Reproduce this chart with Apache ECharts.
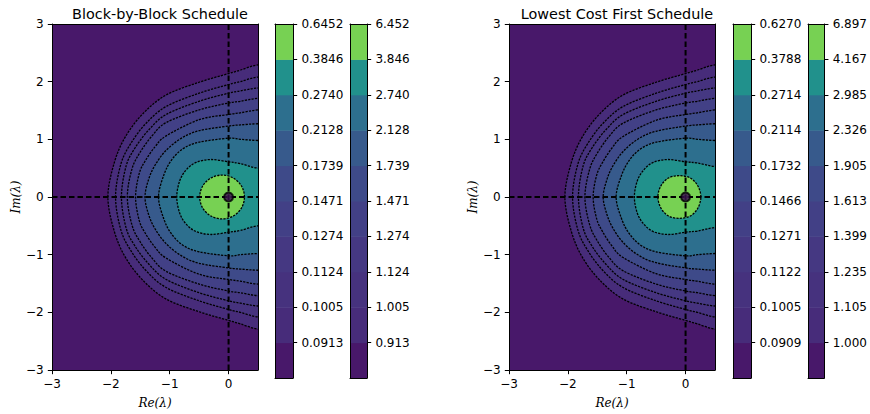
<!DOCTYPE html>
<html>
<head>
<meta charset="utf-8">
<script src="https://cdn.jsdelivr.net/npm/echarts@6/dist/echarts.min.js"></script>
<style>
  html, body { margin: 0; background: #fff; }
  #chart { width: 870px; height: 414px; }
</style>
</head>
<body>
<div id="chart"></div>
<script>
// colorbar tick labels, bottom boundary to top
var blockLevels = ['0.0913', '0.1005', '0.1124', '0.1274', '0.1471', '0.1739', '0.2128', '0.2740', '0.3846', '0.6452'];
var blockLevelsInv = ['0.913', '1.005', '1.124', '1.274', '1.471', '1.739', '2.128', '2.740', '3.846', '6.452'];
var lowestLevels = ['0.0909', '0.1005', '0.1122', '0.1271', '0.1466', '0.1732', '0.2114', '0.2714', '0.3788', '0.6270'];
var lowestLevelsInv = ['1.000', '1.105', '1.235', '1.399', '1.613', '1.905', '2.326', '2.985', '4.167', '6.897'];

// fill colour of each band, lowest first
var layerColors = ['#48186a', '#472c7a', '#46327e', '#453882', '#424086', '#3e4a89', '#375a8c', '#2d6f8e', '#21918c', '#77d153'];

var xTicks = [-3, -2, -1, 0];
var yTicks = [-3, -2, -1, 0, 1, 2, 3];

// upper half of each contour line, from the right edge round to the real axis
var blockContours = [
  [[0.5, 2.29], [0.2, 2.20], [0, 2.14], [-0.5, 1.99], [-1.06, 1.77], [-1.45, 1.45], [-1.75, 1.05], [-1.94, 0.60], [-2.05, 0]],
  [[0.5, 2.08], [0.2, 2.00], [0, 1.95], [-0.5, 1.80], [-1.06, 1.57], [-1.40, 1.28], [-1.66, 0.93], [-1.83, 0.57], [-1.92, 0]],
  [[0.5, 1.89], [0.2, 1.84], [0, 1.80], [-0.5, 1.66], [-1.06, 1.43], [-1.35, 1.17], [-1.59, 0.85], [-1.74, 0.54], [-1.82, 0]],
  [[0.5, 1.71], [0.2, 1.66], [0, 1.63], [-0.5, 1.51], [-1.06, 1.29], [-1.30, 1.06], [-1.50, 0.78], [-1.64, 0.49], [-1.72, 0]],
  [[0.5, 1.51], [0.2, 1.46], [0, 1.43], [-0.5, 1.34], [-1.06, 1.06], [-1.25, 0.87], [-1.42, 0.62], [-1.52, 0.40], [-1.58, 0]],
  [[0.5, 1.27], [0.2, 1.25], [0, 1.23], [-0.5, 1.15], [-0.8, 1.02], [-1.06, 0.81], [-1.25, 0.55], [-1.36, 0.30], [-1.42, 0]],
  [[0.5, 0.98], [0.2, 1.00], [0, 1.02], [-0.5, 0.95], [-0.77, 0.84], [-0.97, 0.64], [-1.10, 0.38], [-1.19, 0]],
  [[0.5, 0.50], [0.2, 0.58], [0, 0.61], [-0.3, 0.65], [-0.55, 0.60], [-0.72, 0.47], [-0.83, 0.28], [-0.88, 0]],
  [[0.27, 0], [0.22, 0.19], [0.08, 0.33], [-0.11, 0.38], [-0.30, 0.33], [-0.44, 0.19], [-0.49, 0]]
];
var lowestContours = [
  [[0.5, 2.29], [0.2, 2.20], [0, 2.14], [-0.5, 1.99], [-1.06, 1.77], [-1.45, 1.45], [-1.75, 1.05], [-1.94, 0.60], [-2.05, 0]],
  [[0.5, 2.08], [0.2, 2.00], [0, 1.95], [-0.5, 1.80], [-1.06, 1.57], [-1.40, 1.28], [-1.66, 0.93], [-1.83, 0.57], [-1.92, 0]],
  [[0.5, 1.89], [0.2, 1.84], [0, 1.80], [-0.5, 1.66], [-1.06, 1.43], [-1.35, 1.17], [-1.59, 0.85], [-1.74, 0.54], [-1.82, 0]],
  [[0.5, 1.71], [0.2, 1.66], [0, 1.63], [-0.5, 1.51], [-1.06, 1.28], [-1.30, 1.05], [-1.50, 0.76], [-1.63, 0.48], [-1.71, 0]],
  [[0.5, 1.51], [0.2, 1.46], [0, 1.43], [-0.5, 1.33], [-1.06, 1.05], [-1.25, 0.85], [-1.41, 0.60], [-1.51, 0.38], [-1.57, 0]],
  [[0.5, 1.27], [0.2, 1.25], [0, 1.23], [-0.5, 1.14], [-0.8, 1.01], [-1.06, 0.79], [-1.24, 0.53], [-1.34, 0.29], [-1.40, 0]],
  [[0.5, 0.98], [0.2, 1.00], [0, 1.02], [-0.5, 0.95], [-0.77, 0.83], [-0.96, 0.63], [-1.09, 0.37], [-1.18, 0]],
  [[0.5, 0.53], [0.2, 0.59], [0, 0.61], [-0.3, 0.65], [-0.55, 0.60], [-0.71, 0.47], [-0.82, 0.28], [-0.87, 0]],
  [[0.26, 0], [0.21, 0.19], [0.08, 0.33], [-0.11, 0.37], [-0.29, 0.33], [-0.42, 0.19], [-0.47, 0]]
];

var crossLines = [[[0, -3], [0, 3]], [[-3, 0], [0.5, 0]]];
var pole = [[0, 0]];

var chart = echarts.init(document.getElementById('chart'), null, { renderer: 'svg' });

var FONT = 'DejaVu Sans';
var MATH = 'DejaVu Serif';
var grids = [];
var xAxes = [];
var yAxes = [];
var series = [];

function minus(v) { return String(v).replace('-', '\u2212'); }

function frame(grid, xr, yr, opts) {
  var g = grids.length;
  grids.push(grid);
  var xi = xAxes.length, yi = yAxes.length;
  var lineStyle = { color: '#000', width: 1 };
  var tick = { show: true, length: 4.2, inside: false, lineStyle: { color: '#000', width: 1 } };
  var label = { show: true, color: '#000', fontFamily: FONT, fontSize: 12, margin: 8.4 };
  xAxes.push({
    gridIndex: g, type: 'value', min: xr[0], max: xr[1], position: 'bottom', z: 10,
    axisLine: { show: true, onZero: false, lineStyle: lineStyle },
    axisTick: opts.xTicks ? Object.assign({ customValues: opts.xTicks }, tick) : { show: false },
    axisLabel: opts.xTicks ? Object.assign({ customValues: opts.xTicks, formatter: minus }, label) : { show: false },
    splitLine: { show: false },
    name: opts.xName || '', nameLocation: 'middle', nameGap: 27,
    nameTextStyle: { fontFamily: MATH, fontStyle: 'italic', fontSize: 12, color: '#000' }
  });
  xAxes.push({
    gridIndex: g, type: 'value', min: xr[0], max: xr[1], position: 'top', z: 10,
    axisLine: { show: true, onZero: false, lineStyle: lineStyle },
    axisTick: { show: false }, axisLabel: { show: false }, splitLine: { show: false }
  });
  yAxes.push({
    gridIndex: g, type: 'value', min: yr[0], max: yr[1], position: 'left', z: 10,
    axisLine: { show: true, onZero: false, lineStyle: lineStyle },
    axisTick: opts.yTicks ? Object.assign({ customValues: opts.yTicks }, tick) : { show: false },
    axisLabel: opts.yTicks ? Object.assign({ customValues: opts.yTicks, formatter: minus }, label) : { show: false },
    splitLine: { show: false },
    name: opts.yName || '', nameLocation: 'middle', nameGap: 27, nameRotate: 90,
    nameTextStyle: { fontFamily: MATH, fontStyle: 'italic', fontSize: 12, color: '#000' }
  });
  var labels = opts.rightLabels;
  var cb = [1, 2, 3, 4, 5, 6, 7, 8, 9, 10];
  yAxes.push({
    gridIndex: g, type: 'value', min: yr[0], max: yr[1], position: 'right', z: 10,
    axisLine: { show: true, onZero: false, lineStyle: lineStyle },
    axisTick: labels ? Object.assign({ customValues: cb }, tick) : { show: false },
    axisLabel: labels ? Object.assign({ customValues: cb, formatter: function (v) { return labels[v - 1]; } }, label) : { show: false },
    splitLine: { show: false }
  });
  return { x: xi, y: yi };
}

// whole outline of a contour: upper half, mirrored lower half, and a run past the right edge
function closeShape(upper) {
  var closed = upper[0][1] === 0;
  var pts = upper.slice();
  var lower = upper.slice(closed ? 1 : 0, upper.length - 1).reverse().map(function (p) { return [p[0], -p[1]]; });
  if (!closed) pts.unshift([upper[0][0] + 0.4, upper[0][1]]);
  pts = pts.concat(lower);
  if (!closed) pts.push([upper[0][0] + 0.4, -upper[0][1]]);
  return pts;
}

// closed Catmull-Rom curve through pixel points, as svg path data
function smoothPath(p) {
  var n = p.length;
  var d = 'M' + p[0][0] + ',' + p[0][1];
  for (var i = 0; i < n; i++) {
    var a = p[(i - 1 + n) % n], b = p[i], c = p[(i + 1) % n], e = p[(i + 2) % n];
    var c1 = [b[0] + (c[0] - a[0]) / 6, b[1] + (c[1] - a[1]) / 6];
    var c2 = [c[0] - (e[0] - b[0]) / 6, c[1] - (e[1] - b[1]) / 6];
    d += 'C' + c1[0] + ',' + c1[1] + ' ' + c2[0] + ',' + c2[1] + ' ' + c[0] + ',' + c[1];
  }
  return d + 'Z';
}

function contourPlot(grid, contours, title, cx) {
  var ax = frame(grid, [-3, 0.5], [-3, 3], { xTicks: xTicks, yTicks: yTicks, xName: 'Re(\u03bb)', yName: 'Im(\u03bb)' });
  var gr = grids[grids.length - 1];
  gr.show = true;
  gr.backgroundColor = layerColors[0];
  gr.borderWidth = 0;
  series.push({
    type: 'custom', xAxisIndex: ax.x, yAxisIndex: ax.y, clip: true, z: 2,
    data: contours.map(function (c, i) { return [i]; }),
    renderItem: function (params, api) {
      var k = params.dataIndex;
      var pts = closeShape(contours[k]).map(function (p) { return api.coord(p); });
      return {
        type: 'path',
        shape: { pathData: smoothPath(pts) },
        style: { fill: layerColors[k + 1], stroke: '#000', lineWidth: 1.3, lineDash: [2.2, 1.2] }
      };
    }
  });
  crossLines.forEach(function (seg) {
    series.push({
      type: 'line', xAxisIndex: ax.x, yAxisIndex: ax.y, data: seg, symbol: 'none', z: 4,
      lineStyle: { color: '#000', width: 2, type: [5.5, 3] }, silent: true
    });
  });
  series.push({
    type: 'scatter', xAxisIndex: ax.x, yAxisIndex: ax.y, data: pole, symbol: 'circle', symbolSize: 9, z: 5,
    itemStyle: { color: '#3b0f50', borderColor: '#000', borderWidth: 2 }
  });
  return { text: title, left: cx, top: 2, textAlign: 'center',
    textStyle: { fontFamily: FONT, fontWeight: 'normal', fontSize: 14.4, color: '#000' } };
}

function colorbar(grid, labels) {
  var ax = frame(grid, [0, 1], [0, 10], { rightLabels: labels });
  series.push({
    type: 'custom', xAxisIndex: ax.x, yAxisIndex: ax.y, z: 2,
    data: layerColors.map(function (c, i) { return [i]; }),
    renderItem: function (params, api) {
      var i = params.dataIndex;
      var p0 = api.coord([0, i]);
      var p1 = api.coord([1, i + 1]);
      return {
        type: 'rect',
        shape: { x: p0[0], y: p1[1], width: p1[0] - p0[0], height: p0[1] - p1[1] + 0.5 },
        style: { fill: layerColors[i] }
      };
    }
  });
}

var titles = [];
titles.push(contourPlot({ left: 52, top: 24, width: 206, height: 354 }, blockContours, 'Block-by-Block Schedule', 155));
colorbar({ left: 275, top: 24, width: 18, height: 354 }, blockLevels);
colorbar({ left: 350, top: 24, width: 17, height: 354 }, blockLevelsInv);
titles.push(contourPlot({ left: 509, top: 24, width: 206, height: 354 }, lowestContours, 'Lowest Cost First Schedule', 612));
colorbar({ left: 733, top: 24, width: 18, height: 354 }, lowestLevels);
colorbar({ left: 808, top: 24, width: 18, height: 354 }, lowestLevelsInv);

chart.setOption({
  animation: false,
  backgroundColor: '#fff',
  title: titles,
  grid: grids,
  xAxis: xAxes,
  yAxis: yAxes,
  series: series
});

window.addEventListener('resize', function () { chart.resize(); });
</script>
</body>
</html>
